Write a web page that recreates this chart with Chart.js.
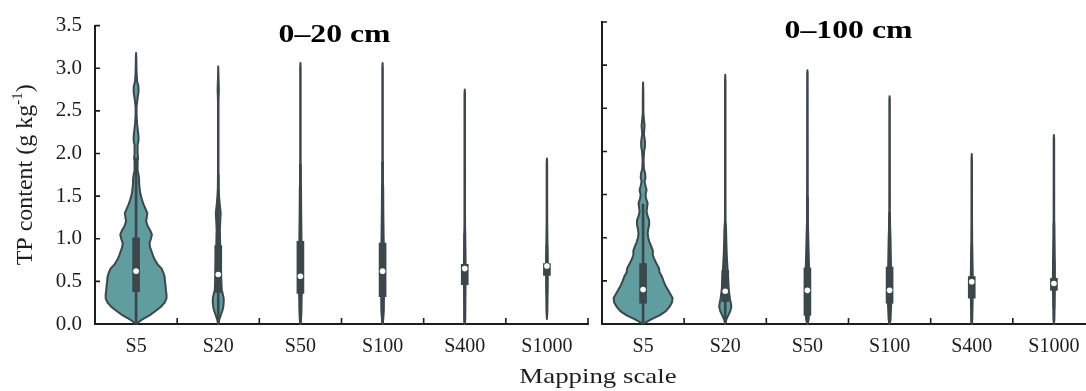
<!DOCTYPE html>
<html>
<head>
<meta charset="utf-8">
<script src="https://cdn.jsdelivr.net/npm/chart.js@4.4.1/dist/chart.umd.min.js"></script>
<style>
  html, body { margin: 0; padding: 0; background: #fff; overflow: hidden; width: 1086px; height: 391px; }
  #wrap { position: relative; width: 1086px; height: 391px; }
  #left { position: absolute; left: 0; top: 0; }
  #right { position: absolute; left: 590px; top: 0; }
</style>
</head>
<body>
<div id="wrap">
  <canvas id="left" width="1086" height="391" style="width:1086px;height:391px"></canvas>
  <canvas id="right" width="510" height="391" style="width:510px;height:391px"></canvas>
</div>
<script>
// ---- categories and labels ----
const categories = ['S5', 'S20', 'S50', 'S100', 'S400', 'S1000'];
const panelTitles = ['0\u201320 cm', '0\u2013100 cm'];
const yTickValues = [0, 0.5, 1.0, 1.5, 2.0, 2.5, 3.0, 3.5];
const xAxisTitle = 'Mapping scale';
const yAxisTitle = ['TP content (g kg', '-1', ')'];

// ---- box statistics, 0–20 cm ----
const q1Top = [0.38, 0.37, 0.36, 0.32, 0.46, 0.57];
const medianTop = [0.62, 0.58, 0.56, 0.62, 0.65, 0.68];
const q3Top = [1.01, 0.92, 0.97, 0.95, 0.70, 0.71];
const whiskerLowTop = [0, 0, 0, 0, 0, 0.36];
const whiskerHighTop = [1.95, 1.75, 1.87, 1.90, 1.06, 0.92];

// ---- box statistics, 0–100 cm ----
const q1Deep = [0.24, 0.26, 0.10, 0.24, 0.30, 0.39];
const medianDeep = [0.40, 0.38, 0.39, 0.39, 0.49, 0.47];
const q3Deep = [0.70, 0.62, 0.65, 0.66, 0.55, 0.53];
const whiskerLowDeep = [0, 0, 0, 0, 0, 0.18];
const whiskerHighDeep = [1.39, 1.16, 1.47, 1.29, 0.92, 0.74];

// ---- kernel density profiles [TP value, relative density], 0–20 cm ----
const densTopS5 = [[0,0],[0.05,0.19],[0.1,0.44],[0.15,0.63],[0.2,0.81],[0.25,0.94],[0.3,1],[0.35,1],[0.4,0.98],[0.45,0.97],[0.5,0.95],[0.55,0.94],[0.6,0.9],[0.65,0.84],[0.7,0.71],[0.75,0.62],[0.8,0.56],[0.85,0.51],[0.9,0.46],[0.95,0.44],[1.0,0.49],[1.05,0.52],[1.1,0.46],[1.15,0.38],[1.2,0.33],[1.25,0.35],[1.3,0.37],[1.35,0.31],[1.4,0.25],[1.45,0.2],[1.5,0.16],[1.55,0.13],[1.6,0.115],[1.65,0.1],[1.7,0.1],[1.75,0.08],[1.8,0.05],[1.9,0.05],[1.95,0.065],[2.0,0.05],[2.1,0.05],[2.15,0.08],[2.2,0.08],[2.25,0.065],[2.35,0.033],[2.45,0.016],[2.55,0.016],[2.65,0.05],[2.72,0.08],[2.78,0.08],[2.85,0.033],[2.95,0.016],[3.05,0.01],[3.12,0.008],[3.18,0]];
const densTopS20 = [[0,0],[0.05,0.033],[0.1,0.08],[0.15,0.13],[0.2,0.165],[0.25,0.18],[0.3,0.18],[0.35,0.15],[0.4,0.115],[0.5,0.1],[0.6,0.09],[0.7,0.08],[0.8,0.072],[0.9,0.065],[1.0,0.06],[1.1,0.053],[1.2,0.065],[1.3,0.08],[1.4,0.05],[1.5,0.026],[1.6,0.01],[1.75,0.008],[2.6,0.008],[2.75,0.02],[2.9,0.008],[3.02,0]];
const densTopS50 = [[0,0],[0.05,0.02],[0.15,0.033],[0.3,0.04],[0.5,0.05],[0.8,0.05],[1.0,0.035],[1.3,0.025],[1.6,0.02],[1.66,0.008],[3.0,0.008],[3.06,0]];
const densTopS100 = [[0,0],[0.05,0.02],[0.15,0.04],[0.3,0.045],[0.5,0.05],[0.8,0.05],[1.0,0.035],[1.3,0.025],[1.6,0.02],[1.66,0.008],[3.0,0.008],[3.06,0]];
const densTopS400 = [[0,0],[0.05,0.015],[0.3,0.02],[0.6,0.03],[0.9,0.02],[1.2,0.01],[2.7,0.008],[2.75,0]];
const densTopS1000 = [[0.06,0],[0.15,0.015],[0.5,0.025],[0.7,0.03],[0.9,0.02],[1.2,0.01],[1.9,0.008],[1.94,0]];

// ---- kernel density profiles [TP value, relative density], 0–100 cm ----
const densDeepS5 = [[0,0],[0.05,0.25],[0.1,0.54],[0.15,0.75],[0.2,0.87],[0.25,0.95],[0.3,0.97],[0.35,0.89],[0.4,0.81],[0.45,0.73],[0.5,0.67],[0.55,0.62],[0.6,0.54],[0.65,0.52],[0.7,0.44],[0.75,0.37],[0.8,0.32],[0.85,0.32],[0.9,0.27],[0.95,0.21],[1.0,0.17],[1.05,0.15],[1.1,0.17],[1.15,0.2],[1.2,0.2],[1.25,0.15],[1.3,0.115],[1.35,0.13],[1.4,0.15],[1.45,0.1],[1.5,0.08],[1.55,0.115],[1.6,0.08],[1.65,0.05],[1.7,0.08],[1.75,0.065],[1.8,0.026],[1.9,0.016],[2.0,0.033],[2.05,0.06],[2.1,0.065],[2.15,0.05],[2.2,0.026],[2.3,0.05],[2.35,0.033],[2.45,0.01],[2.6,0.01],[2.7,0.008],[2.8,0]];
const densDeepS20 = [[0,0],[0.05,0.033],[0.1,0.1],[0.15,0.165],[0.2,0.2],[0.25,0.18],[0.3,0.15],[0.4,0.115],[0.5,0.1],[0.6,0.08],[0.7,0.065],[0.8,0.05],[0.9,0.04],[1.0,0.033],[1.1,0.026],[1.2,0.01],[1.4,0.008],[2.8,0.008],[2.89,0]];
const densDeepS50 = [[0,0],[0.05,0.04],[0.15,0.06],[0.3,0.07],[0.5,0.06],[0.7,0.05],[0.9,0.035],[1.05,0.025],[1.2,0.012],[2.9,0.008],[2.94,0]];
const densDeepS100 = [[0,0],[0.05,0.03],[0.2,0.05],[0.4,0.06],[0.6,0.05],[0.8,0.04],[1.0,0.03],[1.1,0.02],[1.3,0.01],[2.6,0.008],[2.64,0]];
const densDeepS400 = [[0,0],[0.05,0.015],[0.3,0.03],[0.5,0.035],[0.7,0.025],[0.9,0.015],[1.2,0.01],[1.9,0.008],[1.97,0]];
const densDeepS1000 = [[0,0],[0.05,0.015],[0.3,0.025],[0.5,0.035],[0.7,0.03],[1.0,0.02],[1.13,0.018],[1.2,0.01],[2.15,0.008],[2.19,0]];

const densTop = [densTopS5, densTopS20, densTopS50, densTopS100, densTopS400, densTopS1000];
const densDeep = [densDeepS5, densDeepS20, densDeepS50, densDeepS100, densDeepS400, densDeepS1000];

// ---- styling ----
const FONT = "'Liberation Serif', 'Times New Roman', serif";
const INK = '#1e1c1d';
const VIOLIN_FILL = '#5f9d9e';
const DARK = '#3b474b';
const LEFT_EDGE = 95, RIGHT_CANVAS_X = 590;
const TOP = 22, BOTTOM = 324;

Chart.defaults.font.family = FONT;
Chart.defaults.color = INK;

// violin bodies drawn under the box/whisker datasets
function violinPlugin(profiles) {
  return {
    id: 'violins',
    beforeDatasetsDraw(chart) {
      const { ctx, scales: { x, y } } = chart;
      const band = x.width / categories.length;
      const maxHalf = band * 0.37;
      ctx.save();
      profiles.forEach((prof, i) => {
        const cx = x.getPixelForValue(i);
        ctx.beginPath();
        prof.forEach(([v, d], k) => {
          const px = cx + d * maxHalf, py = y.getPixelForValue(v);
          if (k === 0) ctx.moveTo(px, py); else ctx.lineTo(px, py);
        });
        for (let k = prof.length - 1; k >= 0; k--) {
          const [v, d] = prof[k];
          ctx.lineTo(cx - d * maxHalf, y.getPixelForValue(v));
        }
        ctx.closePath();
        ctx.fillStyle = VIOLIN_FILL;
        ctx.fill();
        ctx.lineJoin = 'round';
        ctx.lineWidth = 2;
        ctx.strokeStyle = DARK;
        ctx.stroke();
      });
      ctx.restore();
    }
  };
}

// inward tick marks on both axes
const inwardTicks = {
  id: 'inwardTicks',
  afterDraw(chart) {
    const { ctx, chartArea: a, scales: { x, y } } = chart;
    ctx.save();
    ctx.strokeStyle = INK;
    ctx.lineWidth = 1.6;
    ctx.beginPath();
    y.ticks.forEach(t => {
      const py = y.getPixelForValue(t.value);
      ctx.moveTo(a.left, py); ctx.lineTo(a.left + 5, py);
    });
    const band = x.width / categories.length;
    for (let i = 0; i < categories.length; i++) {
      const px = x.getPixelForValue(i) + band / 2;
      ctx.moveTo(px, a.bottom); ctx.lineTo(px, a.bottom - 6);
    }
    ctx.stroke();
    ctx.restore();
  }
};

// horizontally widened serif text, as set in the figure
function wideText(ctx, text, x, y, font, stretch) {
  ctx.save();
  ctx.font = font;
  ctx.translate(x, y);
  ctx.scale(stretch, 1);
  ctx.textAlign = 'center';
  ctx.textBaseline = 'middle';
  ctx.fillText(text, 0, 0);
  ctx.restore();
}

function panelTitlePlugin(text, shift) {
  return {
    id: 'panelTitle',
    afterDraw(chart) {
      const { ctx, chartArea: a } = chart;
      ctx.save();
      ctx.fillStyle = '#000';
      wideText(ctx, text, (a.left + a.right) / 2 + shift, a.top + 10, `bold 25px ${FONT}`, 1.27);
      ctx.restore();
    }
  };
}

// shared axis titles, drawn once on the left canvas
const axisTitles = {
  id: 'axisTitles',
  afterDraw(chart) {
    const { ctx, chartArea: a } = chart;
    ctx.save();
    ctx.fillStyle = INK;
    // x title centred across both panels
    wideText(ctx, xAxisTitle, 598, 377, `22px ${FONT}`, 1.22);
    // y title with superscript
    ctx.translate(26, (a.top + a.bottom) / 2);
    ctx.rotate(-Math.PI / 2);
    const main = `24px ${FONT}`, sup = `15px ${FONT}`;
    ctx.font = main; const w1 = ctx.measureText(yAxisTitle[0]).width;
    const w3 = ctx.measureText(yAxisTitle[2]).width;
    ctx.font = sup; const w2 = ctx.measureText(yAxisTitle[1]).width;
    let xPos = -(w1 + w2 + w3) / 2;
    ctx.textAlign = 'left';
    ctx.textBaseline = 'middle';
    ctx.font = main; ctx.fillText(yAxisTitle[0], xPos, 0); xPos += w1;
    ctx.font = sup; ctx.fillText(yAxisTitle[1], xPos, -8); xPos += w2;
    ctx.font = main; ctx.fillText(yAxisTitle[2], xPos, 0);
    ctx.restore();
  }
};

function buildDatasets(q1, med, q3, lo, hi) {
  return [
    { type: 'line', data: med, showLine: false, pointRadius: 2.8, pointBackgroundColor: '#ffffff',
      pointBorderWidth: 0, order: 0 },
    { type: 'bar', data: q1.map((v, i) => [v, q3[i]]), backgroundColor: DARK, barThickness: 7,
      grouped: false, borderWidth: 0, order: 1 },
    { type: 'bar', data: lo.map((v, i) => [v, hi[i]]), backgroundColor: DARK, barThickness: 2,
      grouped: false, borderWidth: 0, order: 2 }
  ];
}

function buildOptions(showYLabels, leftWidth, rightPad) {
  return {
    responsive: false,
    animation: false,
    events: [],
    layout: { padding: { top: TOP, right: rightPad, left: 0, bottom: 0 } },
    plugins: { legend: { display: false }, tooltip: { enabled: false }, title: { display: false } },
    scales: {
      x: {
        type: 'category',
        offset: true,
        grid: { drawOnChartArea: false, drawTicks: false, color: 'rgba(0,0,0,0)' },
        border: { display: true, color: INK, width: 2 },
        ticks: { font: { size: 20, family: FONT }, color: INK, padding: 11, maxRotation: 0, autoSkip: false },
        afterFit(scale) { scale.height = 391 - BOTTOM; }
      },
      y: {
        type: 'linear',
        min: 0, max: 3.5,
        afterBuildTicks(scale) { scale.ticks = yTickValues.map(v => ({ value: v })); },
        grid: { drawOnChartArea: false, drawTicks: false, color: 'rgba(0,0,0,0)' },
        border: { display: true, color: INK, width: 2 },
        ticks: { display: showYLabels, font: { size: 21, family: FONT }, color: INK, padding: 13,
          callback: v => Number(v).toFixed(1) },
        afterFit(scale) { scale.width = leftWidth; }
      }
    }
  };
}

new Chart(document.getElementById('left'), {
  type: 'bar',
  data: { labels: categories, datasets: buildDatasets(q1Top, medianTop, q3Top, whiskerLowTop, whiskerHighTop) },
  options: buildOptions(true, LEFT_EDGE, 1086 - 588),
  plugins: [violinPlugin(densTop), inwardTicks, panelTitlePlugin(panelTitles[0], -7), axisTitles]
});

new Chart(document.getElementById('right'), {
  type: 'bar',
  data: { labels: categories, datasets: buildDatasets(q1Deep, medianDeep, q3Deep, whiskerLowDeep, whiskerHighDeep) },
  options: buildOptions(false, 602 - RIGHT_CANVAS_X, 510 - (1095 - RIGHT_CANVAS_X)),
  plugins: [violinPlugin(densDeep), inwardTicks, panelTitlePlugin(panelTitles[1], 0)]
});
</script>
</body>
</html>
